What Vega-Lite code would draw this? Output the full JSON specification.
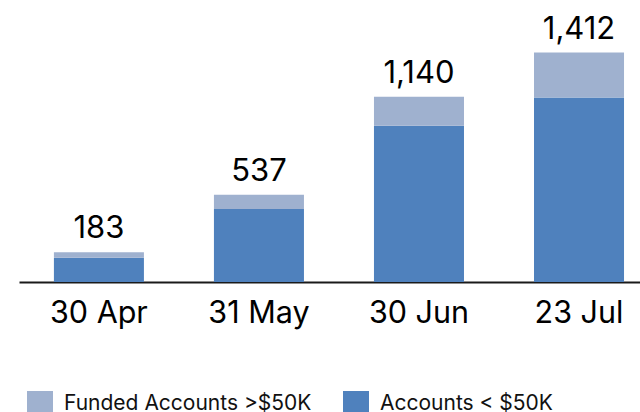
{
  "$schema": "https://vega.github.io/schema/vega-lite/v6.json",
  "width": 621,
  "height": 260,
  "autosize": {"type": "none"},
  "padding": {"left": 19, "top": 22, "right": 0, "bottom": 130},
  "background": "white",
  "config": {"view": {"stroke": null}, "font": "Inter"},
  "datasets": {
    "parts": [
      {"date": "30 Apr", "series": "Accounts < $50K", "ord": 1, "count": 150},
      {"date": "30 Apr", "series": "Funded Accounts >$50K", "ord": 2, "count": 33},
      {"date": "31 May", "series": "Accounts < $50K", "ord": 1, "count": 450},
      {"date": "31 May", "series": "Funded Accounts >$50K", "ord": 2, "count": 87},
      {"date": "30 Jun", "series": "Accounts < $50K", "ord": 1, "count": 962},
      {"date": "30 Jun", "series": "Funded Accounts >$50K", "ord": 2, "count": 178},
      {"date": "23 Jul", "series": "Accounts < $50K", "ord": 1, "count": 1136},
      {"date": "23 Jul", "series": "Funded Accounts >$50K", "ord": 2, "count": 276}
    ],
    "totals": [
      {"date": "30 Apr", "total": 183},
      {"date": "31 May", "total": 537},
      {"date": "30 Jun", "total": 1140},
      {"date": "23 Jul", "total": 1412}
    ]
  },
  "layer": [
    {
      "data": {"name": "parts"},
      "mark": {"type": "bar"},
      "encoding": {
        "x": {
          "field": "date",
          "type": "nominal",
          "sort": ["30 Apr", "31 May", "30 Jun", "23 Jul"],
          "scale": {"paddingInner": 0.4375, "paddingOuter": 0.159, "align": 0.686},
          "axis": {
            "title": null,
            "labelAngle": 0,
            "ticks": false,
            "tickSize": 0,
            "domainColor": "#1a1a1a",
            "domainWidth": 2,
            "labelFont": "Inter",
            "labelFontSize": 30.5,
            "labelColor": "#000000",
            "labelBaseline": "alphabetic",
            "labelPadding": 40
          }
        },
        "y": {
          "field": "count",
          "type": "quantitative",
          "stack": "zero",
          "scale": {"domain": [0, 1600], "nice": false},
          "axis": null
        },
        "color": {
          "field": "series",
          "type": "nominal",
          "scale": {
            "domain": ["Funded Accounts >$50K", "Accounts < $50K"],
            "range": ["#9fb1cf", "#4f81bd"]
          },
          "legend": {
            "title": null,
            "orient": "none",
            "direction": "horizontal",
            "legendX": 8,
            "legendY": 369,
            "padding": 0,
            "symbolType": "square",
            "symbolSize": 676,
            "symbolStrokeWidth": 0,
            "symbolOpacity": 1,
            "labelFont": "Inter",
            "labelFontSize": 21,
            "labelColor": "#111111",
            "labelOffset": 11,
            "labelLimit": 400,
            "columnPadding": 31
          }
        },
        "order": {"field": "ord", "type": "quantitative"}
      }
    },
    {
      "data": {"name": "totals"},
      "mark": {"type": "text", "baseline": "alphabetic", "dy": -14, "fontSize": 31, "font": "Inter", "color": "#000000"},
      "encoding": {
        "x": {"field": "date", "type": "nominal", "sort": ["30 Apr", "31 May", "30 Jun", "23 Jul"]},
        "y": {"field": "total", "type": "quantitative"},
        "text": {"field": "total", "type": "quantitative", "format": ","}
      }
    }
  ]
}
